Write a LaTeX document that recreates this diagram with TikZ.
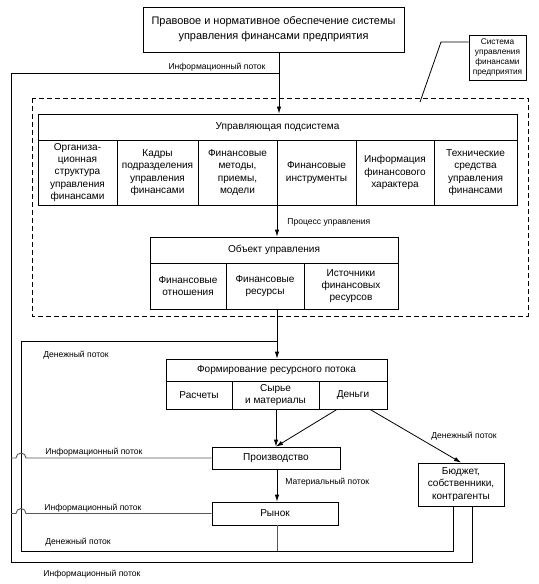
\documentclass[tikz,border=0pt]{standalone}
\usepackage{fontspec}
\setmainfont{Liberation Sans}
\usetikzlibrary{arrows.meta,calc}
\begin{document}
\begin{tikzpicture}[x=1bp,y=-1bp,
  every path/.style={line width=0.8bp},
  box/.style={draw, line width=0.8bp, inner sep=1pt, align=center, font=\fontsize{10.1}{12.4}\selectfont},
  lbl/.style={inner sep=0pt, font=\fontsize{8.6}{9}\selectfont},
  arr/.style={-{Latex[length=7bp,width=4.5bp]}},
  info/.style={draw=black!65, line width=0.9bp}
]
\useasboundingbox (0,0) rectangle (539,584);
% top box
\node[box, minimum width=261bp, minimum height=45bp, font=\fontsize{11}{15}\selectfont] (top) at (273.5,29.5)
  {Правовое и нормативное обеспечение системы\\управления финансами предприятия};
% dashed frame
\draw[dashed, dash pattern=on 5bp off 3bp] (32,98) rectangle (528,316);
% callout
\node[box, minimum width=57bp, minimum height=45bp, font=\fontsize{8.3}{9.8}\selectfont] (call) at (497.5,57.5)
  {Система\\управления\\финансами\\предприятия};
\coordinate (k1) at (441,42);
\coordinate (k2) at (420,102);
\draw (call.west |- k1) -- (k1) -- (k2);
% control subsystem
\node[box, minimum width=479bp, minimum height=26bp] (ctrl) at (277.5,127) {Управляющая подсистема};
\node[box, minimum width=79bp, minimum height=65bp] (c1) at (77.5,172.5) {Организа-\\ционная\\структура\\управления\\финансами};
\node[box, minimum width=81bp, minimum height=65bp] (c2) at (157.5,172.5) {Кадры\\подразделения\\управления\\финансами};
\node[box, minimum width=79bp, minimum height=65bp] (c3) at (237.5,172.5) {Финансовые\\методы,\\приемы,\\модели};
\node[box, minimum width=79bp, minimum height=65bp] (c4) at (316.5,172.5) {Финансовые\\инструменты};
\node[box, minimum width=78bp, minimum height=65bp] (c5) at (395,172.5) {Информация\\финансового\\характера};
\node[box, minimum width=83bp, minimum height=65bp] (c6) at (475.5,172.5) {Технические\\средства\\управления\\финансами};
% object
\node[box, minimum width=248bp, minimum height=26bp] (obj) at (274,250) {Объект управления};
\node[box, minimum width=76bp, minimum height=46bp] (o1) at (188,286) {Финансовые\\отношения};
\node[box, minimum width=78bp, minimum height=46bp] (o2) at (265,286) {Финансовые\\ресурсы};
\node[box, minimum width=94bp, minimum height=46bp] (o3) at (351,286) {Источники\\финансовых\\ресурсов};
% formation
\node[box, minimum width=221bp, minimum height=22bp] (form) at (276.5,370) {Формирование ресурсного потока};
\node[box, minimum width=66bp, minimum height=28bp] (f1) at (199,395) {Расчеты};
\node[box, minimum width=87bp, minimum height=28bp] (f2) at (275.5,395) {Сырье\\и материалы};
\node[box, minimum width=68bp, minimum height=28bp] (f3) at (353,395) {Деньги};
% production, market, budget
\node[box, minimum width=128bp, minimum height=22bp] (prod) at (276,458) {Производство};
\node[box, minimum width=126bp, minimum height=23bp] (mkt) at (275,513.5) {Рынок};
\node[box, minimum width=86bp, minimum height=43bp] (bud) at (461,484.5) {Бюджет,\\собственники,\\контрагенты};
% coordinates
\coordinate (j1) at (279,73);
\coordinate (j2) at (277,341);
\coordinate (ob) at (11,562);
\coordinate (ib) at (21,551);
\coordinate (b1) at ($(bud.south)+(-8,0)$);
\coordinate (b2) at ($(bud.south)+(11,0)$);
\coordinate (i1) at (prod.west -| 11,0);
\coordinate (i2) at (mkt.west -| 11,0);
\coordinate (mb) at (277,551);
% connectors
\draw[arr] (top.south -| j1) -- (ctrl.north -| j1);
\draw (j1) -| (ob) -| (b2);
\draw (b1) |- (ib) |- (j2);
\draw[arr] (ctrl.south -| j2) -- (obj.north -| j2);
\draw[arr] (o2.south -| j2) -- (form.north -| j2);
\draw[arr] (f2.south -| prod.north) -- (prod.north);
\draw[arr] ($(f3.south)+(-16,0)$) -- (prod.north);
\draw[arr] ($(f3.south)+(17,0)$) -- (bud.north);
\draw[arr] (prod.south -| j2) -- (mkt.north -| j2);
\draw[info] (mkt.south -| j2) -- (mb);
\draw[info] (i1) -- ++(5,0) arc[start angle=180, end angle=360, radius=5] -- (prod.west);
\draw[info] (i2) -- ++(5,0) arc[start angle=180, end angle=360, radius=5] -- (mkt.west);
% labels
\node[lbl] (l1) at (217,67) {Информационный поток};
\node[lbl, anchor=west] (l2) at (287,222) {Процесс управления};
\node[lbl, anchor=west] (l3) at (43,355) {Денежный поток};
\node[lbl, anchor=west] (l4) at (45,452) {Информационный поток};
\node[lbl, anchor=west] (l5) at (44,508) {Информационный поток};
\node[lbl, anchor=west] (l6) at (45,542) {Денежный поток};
\node[lbl, anchor=west] (l7) at (43,574) {Информационный поток};
\node[lbl, anchor=west] (l8) at (285,482) {Материальный поток};
\node[lbl, anchor=west] (l9) at (431,436) {Денежный поток};
\end{tikzpicture}
\end{document}
